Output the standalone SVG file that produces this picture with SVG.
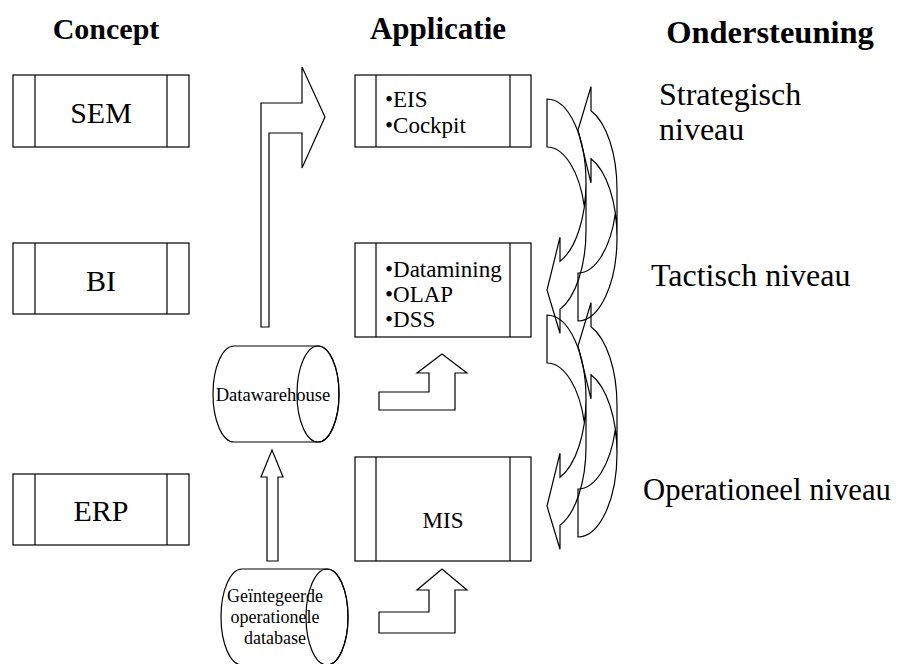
<svg xmlns="http://www.w3.org/2000/svg" xmlns:xlink="http://www.w3.org/1999/xlink" width="904" height="664" viewBox="0 0 904 664">
<style>
  .box { fill: #fff; stroke: #000; stroke-width: 1.2; }
  .ln { fill: none; stroke: #000; stroke-width: 1.2; }
  .shape { fill: #fff; stroke: #000; stroke-width: 1.2; }
  .curve { fill: none; stroke: #000; stroke-width: 1.2; }
  text { font-family: "Liberation Serif", "Times New Roman", serif; fill: #000; }
  .hdr { font-size: 30px; font-weight: bold; }
  .big { font-size: 30px; }
  .lvl { font-size: 32px; }
  .mid { font-size: 23px; }
  .sm { font-size: 18px; }
</style>
<defs>
  <path id="curvA" d="M586,182.5 A39,83.5 0 0 1 560,261.22 L560,237.22 L547,290 L560,333.22 L560,309.22 A39,83.5 0 0 0 586,230.5 L586,182.5 A39,83.5 0 0 0 547,99 L547,147 A39,83.5 0 0 1 584.35,206.5"/>
</defs>
<rect width="904" height="664" fill="#fff"/>

<g id="headers">
  <text class="hdr" x="106" y="39" text-anchor="middle">Concept</text>
  <text class="hdr" x="438" y="39" text-anchor="middle" style="font-size:31px">Applicatie</text>
  <text class="hdr" x="770" y="43" text-anchor="middle" style="font-size:32.5px">Ondersteuning</text>
</g>

<g id="sem">
  <rect class="box" x="13" y="75" width="176" height="72"/>
  <line class="ln" x1="35" y1="75" x2="35" y2="147"/>
  <line class="ln" x1="167" y1="75" x2="167" y2="147"/>
  <text class="big" x="101" y="123" text-anchor="middle">SEM</text>
</g>
<g id="bi">
  <rect class="box" x="13" y="243" width="176" height="71"/>
  <line class="ln" x1="35" y1="243" x2="35" y2="314"/>
  <line class="ln" x1="167" y1="243" x2="167" y2="314"/>
  <text class="big" x="101" y="291" text-anchor="middle">BI</text>
</g>
<g id="erp">
  <rect class="box" x="13" y="474" width="176" height="71"/>
  <line class="ln" x1="35" y1="474" x2="35" y2="545"/>
  <line class="ln" x1="167" y1="474" x2="167" y2="545"/>
  <text class="big" x="101" y="521" text-anchor="middle">ERP</text>
</g>

<g id="eis">
  <rect class="box" x="355" y="75" width="176" height="72"/>
  <line class="ln" x1="376" y1="75" x2="376" y2="147"/>
  <line class="ln" x1="510" y1="75" x2="510" y2="147"/>
  <text class="mid" x="385" y="107">•EIS</text>
  <text class="mid" x="385" y="133">•Cockpit</text>
</g>
<g id="datamining">
  <rect class="box" x="355" y="243" width="176" height="94"/>
  <line class="ln" x1="376" y1="243" x2="376" y2="337"/>
  <line class="ln" x1="510" y1="243" x2="510" y2="337"/>
  <text class="mid" x="385" y="277">•Datamining</text>
  <text class="mid" x="385" y="302">•OLAP</text>
  <text class="mid" x="385" y="327">•DSS</text>
</g>
<g id="mis">
  <rect class="box" x="355" y="457" width="176" height="104"/>
  <line class="ln" x1="376" y1="457" x2="376" y2="561"/>
  <line class="ln" x1="510" y1="457" x2="510" y2="561"/>
  <text class="mid" x="443" y="528" text-anchor="middle">MIS</text>
</g>

<g id="datawarehouse">
  <path class="shape" d="M234,346 L318,346 A21,48 0 0 1 318,442 L234,442 A21,48 0 0 1 234,346 Z"/>
  <ellipse class="shape" cx="318" cy="394" rx="21" ry="48" style="fill:none"/>
  <text class="sm" x="273" y="401" text-anchor="middle" style="font-size:18.6px">Datawarehouse</text>
</g>
<g id="operationele-database">
  <path class="shape" d="M242,569 L327,569 A21,48 0 0 1 327,665 L242,665 A21,48 0 0 1 242,569 Z"/>
  <ellipse class="shape" cx="327" cy="617" rx="21" ry="48" style="fill:none"/>
  <text class="sm" x="275" y="602" text-anchor="middle">Geïntegeerde</text>
  <text class="sm" x="275" y="623" text-anchor="middle">operationele</text>
  <text class="sm" x="275" y="644" text-anchor="middle">database</text>
</g>

<g id="levels">
  <text class="lvl" x="659" y="105">Strategisch</text>
  <text class="lvl" x="659" y="140">niveau</text>
  <text class="lvl" x="651" y="286">Tactisch niveau</text>
  <text class="lvl" x="643" y="500" style="font-size:30.7px">Operationeel niveau</text>
</g>

<g id="connectors">
  <path class="shape" d="M261,327 L261,103 L302,103 L302,67 L325,117 L302,168 L302,133 L269,133 L269,327 Z"/>
  <path class="shape" d="M267,561 L267,477 L261,477 L272,450 L283,477 L278,477 L278,561 Z"/>
  <path class="shape" d="M379,410 L379,392 L429,392 L429,373 L417,373 L442,354 L467,373 L455,373 L455,410 Z"/>
  <path class="shape" d="M379,633 L379,612 L429,612 L429,590 L417,590 L442,569 L467,590 L455,590 L455,633 Z"/>
  <use xlink:href="#curvA" class="curve"/>
  <use xlink:href="#curvA" class="curve" transform="translate(0,216)"/>
  <use xlink:href="#curvA" class="curve" transform="translate(31,420) scale(1,-1)"/>
  <use xlink:href="#curvA" class="curve" transform="translate(31,636) scale(1,-1)"/>
</g>
</svg>
